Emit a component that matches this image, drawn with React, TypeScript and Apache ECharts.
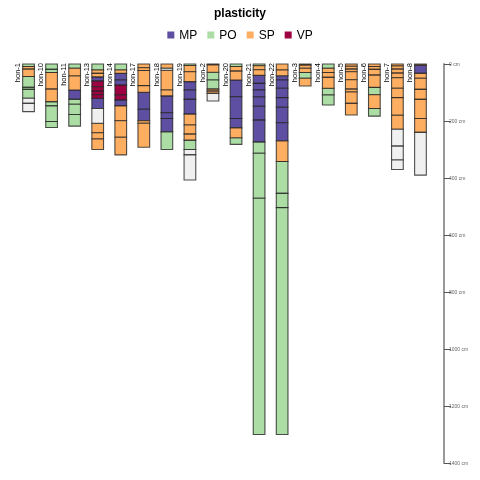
import React, { useEffect, useRef } from "react";
import * as echarts from "echarts";

const profiles = ["hon-1", "hon-10", "hon-11", "hon-13", "hon-14", "hon-17", "hon-18", "hon-19", "hon-2", "hon-20", "hon-21", "hon-22", "hon-3", "hon-4", "hon-5", "hon-6", "hon-7", "hon-8"];

// horizon boundaries (cm) and plasticity class per horizon, for each profile
const depths: number[][] = [
  [0, 9, 18, 44, 82, 89, 120, 138, 167],
  [0, 19, 30, 88, 132, 147, 202, 223],
  [0, 15, 42, 91, 124, 141, 177, 218],
  [0, 21, 33, 45, 60, 80, 95, 108, 120, 156, 208, 241, 263, 300],
  [0, 21, 33, 56, 74, 109, 126, 147, 199, 257, 319],
  [0, 13, 23, 76, 99, 159, 199, 208, 292],
  [0, 15, 22, 91, 112, 171, 191, 238, 300],
  [0, 5, 27, 62, 91, 124, 176, 214, 246, 267, 300, 319, 407],
  [0, 3, 29, 56, 88, 95, 103, 130],
  [0, 9, 25, 56, 115, 191, 224, 259, 282],
  [0, 6, 20, 40, 68, 91, 116, 148, 197, 274, 313, 471, 1300],
  [0, 21, 41, 56, 85, 118, 152, 206, 270, 342, 454, 504, 1300],
  [0, 4, 15, 30, 50, 77],
  [0, 15, 30, 47, 85, 109, 144],
  [0, 8, 18, 27, 55, 88, 98, 138, 179],
  [0, 9, 19, 39, 82, 108, 156, 183],
  [0, 7, 18, 32, 48, 85, 118, 180, 229, 288, 337, 370],
  [0, 4, 33, 50, 89, 124, 191, 240, 390],
];

const plasticity: string[][] = [
  ["PO", "SP", "SP", "PO", "PO", "PO", "NA", "NA"],
  ["PO", "PO", "SP", "SP", "PO", "PO", "PO"],
  ["PO", "SP", "SP", "MP", "PO", "PO", "PO"],
  ["PO", "SP", "SP", "MP", "VP", "VP", "VP", "VP", "MP", "NA", "SP", "SP", "SP"],
  ["PO", "SP", "MP", "MP", "VP", "VP", "MP", "SP", "SP", "SP"],
  ["SP", "SP", "SP", "SP", "MP", "MP", "SP", "SP"],
  ["SP", "NA", "SP", "SP", "MP", "MP", "MP", "PO"],
  ["PO", "SP", "SP", "MP", "MP", "MP", "SP", "SP", "SP", "PO", "NA", "NA"],
  ["SP", "SP", "PO", "PO", "SP", "SP", "NA"],
  ["PO", "SP", "SP", "MP", "MP", "MP", "SP", "PO"],
  ["PO", "SP", "SP", "MP", "MP", "MP", "MP", "MP", "MP", "PO", "PO", "PO"],
  ["SP", "SP", "MP", "MP", "MP", "MP", "MP", "MP", "SP", "PO", "PO", "PO"],
  ["SP", "SP", "SP", "PO", "SP"],
  ["PO", "SP", "SP", "SP", "PO", "PO"],
  ["SP", "SP", "SP", "SP", "SP", "SP", "SP", "SP"],
  ["SP", "SP", "SP", "SP", "PO", "SP", "PO"],
  ["SP", "SP", "SP", "SP", "SP", "SP", "SP", "SP", "NA", "NA", "NA"],
  ["SP", "MP", "SP", "SP", "SP", "SP", "SP", "NA"],
];

const classes = ["MP", "PO", "SP", "VP"];
const classColors = ["#5E4FA2", "#ABDDA4", "#FDAE61", "#9E0142"];
const naColor = "#F0F0F0";
const depthTicks = [0, 200, 400, 600, 800, 1000, 1200, 1400];

const COL_FRAC = 0.507;

function horizonsOf(cls: string): number[][] {
  const out: number[][] = [];
  profiles.forEach((_, i) => {
    const d = depths[i];
    plasticity[i].forEach((c, j) => {
      if (c === cls) out.push([i, d[j], d[j + 1]]);
    });
  });
  return out;
}

function makeRender(color: string) {
  return (params: any, api: any) => {
    const i = api.value(0);
    const p1 = api.coord([i, api.value(1)]);
    const p2 = api.coord([i, api.value(2)]);
    const w = api.size([1, 0])[0] * COL_FRAC;
    return {
      type: "rect",
      shape: { x: p1[0] - w / 2, y: p1[1], width: w, height: p2[1] - p1[1] },
      style: { fill: color, stroke: "rgba(35,35,35,0.8)", lineWidth: 1.1 },
    };
  };
}

export default function App() {
  const ref = useRef<HTMLDivElement>(null);
  useEffect(() => {
    if (!ref.current) return;
    const chart = echarts.init(ref.current, undefined, { renderer: "svg" });
    const classSeries = classes.map((c, k) => ({
      type: "custom",
      name: c,
      itemStyle: { color: classColors[k] },
      encode: { x: 0, y: [1, 2] },
      data: horizonsOf(c),
      renderItem: makeRender(classColors[k]),
    }));
    const naSeries = {
      type: "custom",
      name: "NA",
      encode: { x: 0, y: [1, 2] },
      data: horizonsOf("NA"),
      renderItem: makeRender(naColor),
    };
    const labelSeries = {
      type: "custom",
      name: "labels",
      data: profiles.map((p, i) => [i, 0]),
      encode: { x: 0, y: 1 },
      renderItem: (params: any, api: any) => {
        const i = api.value(0);
        const p = api.coord([i, 0]);
        const w = api.size([1, 0])[0] * COL_FRAC;
        return {
          type: "text",
          x: p[0] - w / 2 - 1,
          y: p[1] - 1,
          rotation: Math.PI / 2,
          style: {
            text: profiles[i],
            align: "right",
            verticalAlign: "bottom",
            fontSize: 7.5,
            fontFamily: "Liberation Sans, Arial, sans-serif",
            fill: "#000",
          },
        };
      },
    };
    chart.setOption({
      animation: false,
      title: {
        text: "plasticity",
        left: "center",
        top: 2,
        textStyle: { fontSize: 12, fontWeight: "bold", color: "#000", fontFamily: "Liberation Sans, Arial, sans-serif" },
      },
      legend: {
        data: classes,
        top: 24,
        left: "center",
        icon: "rect",
        itemWidth: 7,
        itemHeight: 7,
        itemGap: 10,
        textStyle: { fontSize: 12, color: "#000", fontFamily: "Liberation Sans, Arial, sans-serif" },
      },
      grid: { left: 17, top: 64, width: 415, height: 399 },
      xAxis: { type: "category", data: profiles, show: false },
      yAxis: {
        type: "value",
        position: "right",
        offset: 12,
        inverse: true,
        min: 0,
        max: 1400,
        interval: 200,
        splitLine: { show: false },
        axisLine: { show: true, lineStyle: { color: "#999", width: 2 } },
        axisTick: { show: true, length: 7, lineStyle: { color: "#555", width: 1 } },
        axisLabel: {
          formatter: (v: number) => (depthTicks.includes(v) ? v + " cm" : ""),
          fontSize: 5,
          color: "#666",
          margin: 5,
          fontFamily: "Liberation Sans, Arial, sans-serif",
        },
      },
      series: [...classSeries, naSeries, labelSeries],
    });
    return () => chart.dispose();
  }, []);
  return <div ref={ref} style={{ position: "fixed", left: 0, top: 0, width: 480, height: 480 }} />;
}
